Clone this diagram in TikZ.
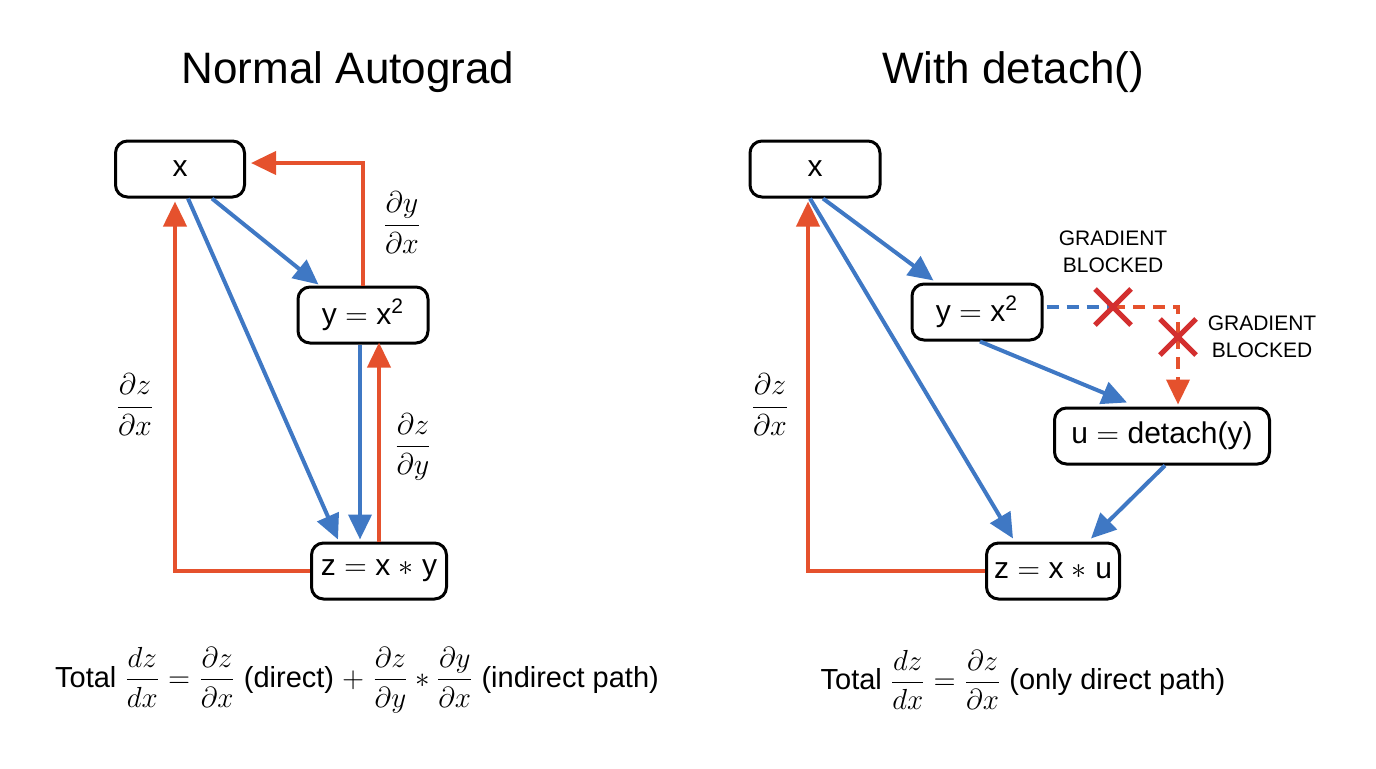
\RequirePackage{fix-cm}
\documentclass[tikz,border=0pt]{standalone}
\usepackage{amsmath}
\usepackage{fontspec}
\setmainfont{Liberation Sans}
\usetikzlibrary{arrows.meta,calc}
\definecolor{gblue}{RGB}{63,120,196}
\definecolor{gred}{RGB}{229,81,45}
\definecolor{xred}{RGB}{211,47,47}
\begin{document}
\begin{tikzpicture}[x=0.5pt,y=-0.5pt,
  box/.style={draw=black, line width=1.5pt, rounded corners=6pt, fill=white,
    font=\fontsize{15}{18}\selectfont, inner sep=0pt, minimum height=28pt},
  fw/.style={draw=gblue, line width=2pt, -{Triangle[length=12.5pt,width=11.5pt]}},
  bw/.style={draw=gred, line width=2pt, -{Triangle[length=12.5pt,width=11.5pt]}},
  dashblue/.style={draw=gblue, line width=2pt, dash pattern=on 6pt off 4pt},
  dashred/.style={draw=gred, line width=2pt, dash pattern=on 6pt off 4pt},
  cross/.style={draw=xred, line width=2.5pt},
  lbl/.style={font=\fontsize{15}{18}\selectfont, inner sep=0pt},
  title/.style={font=\fontsize{22}{26}\selectfont, inner sep=0pt},
  note/.style={font=\fontsize{10.5}{13.5}\selectfont, align=center, inner sep=0pt},
  formula/.style={font=\fontsize{14.5}{17}\selectfont, inner sep=0pt}]
\useasboundingbox (0,0) rectangle (1376,768);

% titles
\node[title] (t1) at (348,72) {Normal Autograd};
\node[title] (t2) at (1013,72) {With detach()};

% ---------- left ----------
\node[box, minimum width=64.5pt] (lx) at (180,169) {x};
\node[box, minimum width=65pt] (ly) at (363,315) {y $=$ x\textsuperscript{2}};
\node[box, minimum width=67.5pt] (lz) at (379,571) {z $=$ x $\ast$ y};

\draw[fw] ($(lx.south)+(32,0)$) -- ($(ly.north west)+(22,-1)$);
\draw[fw] ($(lx.south)+(8,0)$) -- ($(lz.north west)+(28,-2)$);
\draw[fw] ($(ly.south)+(-3,0)$) -- ($(lz.north)+(-19,-2)$);
\draw[bw] (lz.north) -- ($(ly.south)+(16,-2)$);
\draw[bw, shorten >=2.5pt] (ly.north) |- ($(lx.east)+(0,-6)$);
\draw[bw, shorten >=1.5pt] (lz.west) -| ($(lx.south)+(-5,0)$);

\node[lbl] (l1) at (402,223) {$\dfrac{\partial y}{\partial x}$};
\node[lbl] (l2) at (135,405) {$\dfrac{\partial z}{\partial x}$};
\node[lbl] (l3) at (413,447) {$\dfrac{\partial z}{\partial y}$};

\node[formula] (f1) at (357,680) {Total $\dfrac{dz}{dx} = \dfrac{\partial z}{\partial x}$ (direct) $+\ \dfrac{\partial z}{\partial y} \ast \dfrac{\partial y}{\partial x}$ (indirect path)};

% ---------- right ----------
\node[box, minimum width=65pt] (rx) at (815,169) {x};
\node[box, minimum width=65pt] (ry) at (977,312) {y $=$ x\textsuperscript{2}};
\node[box, minimum width=107.5pt] (ru) at (1162,436) {u $=$ detach(y)};
\node[box, minimum width=66.5pt] (rz) at (1053,571) {z $=$ x $\ast$ u};

\draw[fw] ($(rx.south)+(8,0)$) -- ($(ry.north west)+(23,-2)$);
\draw[fw] ($(rx.south)+(-5,0)$) -- ($(rz.north west)+(28,-3)$);
\draw[fw] ($(ry.south)+(3,0)$) -- ($(ru.north)+(-35,-4)$);
\draw[fw] ($(ru.south)+(3,0)$) -- ($(rz.north east)+(-30,-3)$);
\draw[bw, shorten >=1.5pt] (rz.west) -| ($(rx.south)+(-7,0)$);

\coordinate (c1) at (1113,307);
\coordinate (corner) at (1178,307);
\coordinate (c2) at (1178,337);
\draw[dashblue] ($(ry.east)+(3,-5)$) -- (c1);
\draw[dashred] (c1) -- (corner) -- (c2);
\draw[dashred] (c2) -- ($(ru.north)+(16,-12)$);
\draw[bw] ($(ru.north)+(16,-14)$) -- ($(ru.north)+(16,-2)$);

\draw[cross] ($(c1)+(-18,-18)$) -- ($(c1)+(18,18)$);
\draw[cross] ($(c1)+(-18,18)$) -- ($(c1)+(18,-18)$);
\draw[cross] ($(c2)+(-18,-18)$) -- ($(c2)+(18,18)$);
\draw[cross] ($(c2)+(-18,18)$) -- ($(c2)+(18,-18)$);

\node[note] (n1) at (1113,252) {GRADIENT\\BLOCKED};
\node[note] (n2) at (1262,337) {GRADIENT\\BLOCKED};

\node[lbl] (r1) at (770,405) {$\dfrac{\partial z}{\partial x}$};

\node[formula] (f2) at (1023,680) {Total $\dfrac{dz}{dx} = \dfrac{\partial z}{\partial x}$ (only direct path)};
\end{tikzpicture}
\end{document}
